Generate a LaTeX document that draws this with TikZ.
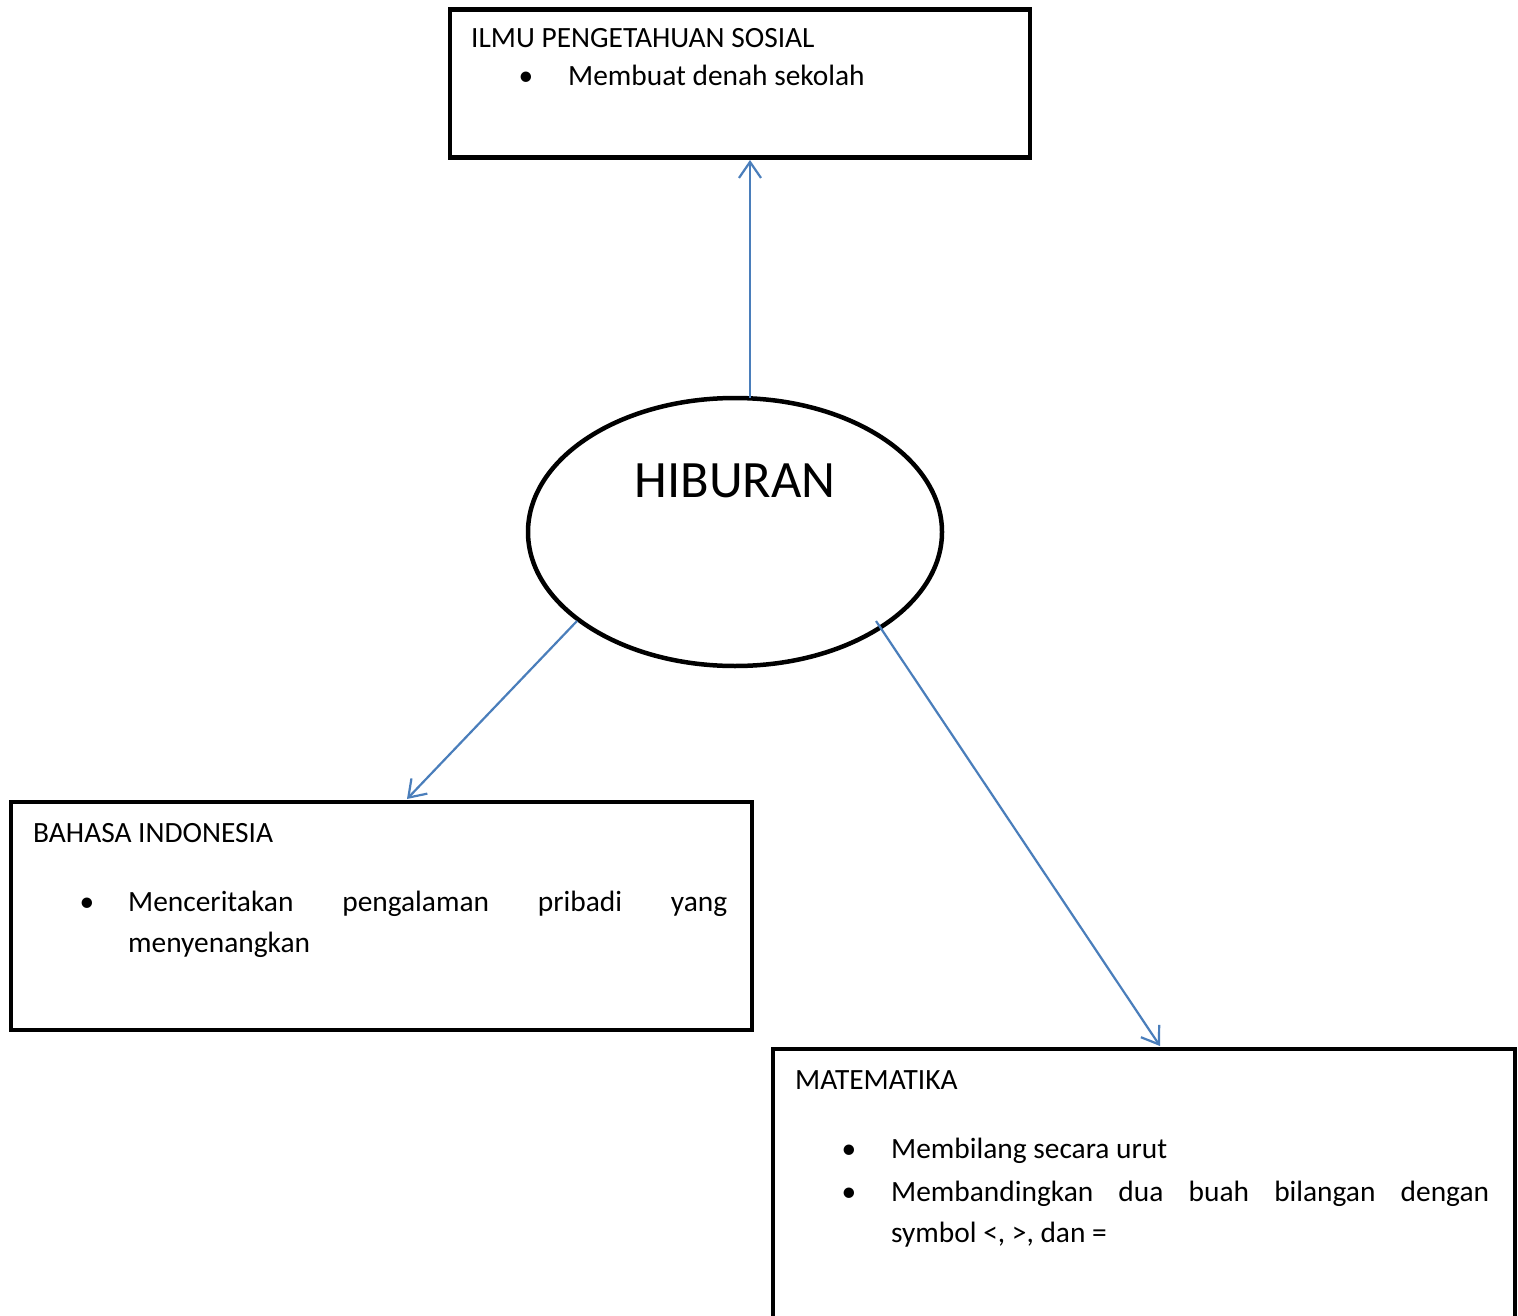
\documentclass[tikz,border=0pt]{standalone}
\usepackage{fontspec}
\setmainfont{Carlito}
\usetikzlibrary{arrows.meta,shapes.geometric}
\definecolor{arrowblue}{HTML}{4A7EBB}
\tikzset{
  box/.style={draw=black, line width=4.5pt, inner sep=0pt, anchor=north west, rectangle},
  conn/.style={draw=arrowblue, line width=2.2pt, -{Straight Barb[length=16pt,width=22pt,line width=2.2pt]}},
  txt/.style={anchor=base west, inner sep=0pt, font=\fontsize{29.4}{35}\selectfont},
  bul/.style={anchor=base, inner sep=0pt, font=\fontsize{29.4}{35}\selectfont},
}
\begin{document}
\begin{tikzpicture}[x=1pt,y=-1pt]
\clip (0,0) rectangle (1518,1316);
\fill[white] (0,0) rectangle (1518,1316);
% boxes
\node[box, minimum width=580pt, minimum height=148pt] (ips) at (447.5,7.5) {};
\node[box, minimum width=741pt, minimum height=228pt] (bi) at (8.5,799.5) {};
\node[box, minimum width=742pt, minimum height=320pt] (mat) at (770.5,1046.5) {};
\node[draw=black, line width=4.5pt, ellipse, minimum width=414pt, minimum height=268pt, inner sep=0pt] (hib) at (735,532) {};
\node[anchor=base, inner sep=0pt, font=\fontsize{52.5}{60}\selectfont] (hibt) at (735,497) {HIBURAN};
% IPS text
\node[txt] (ipst) at (471,48) {ILMU PENGETAHUAN SOSIAL};
\node[bul] (ipsb) at (526,86) {\textbullet};
\node[txt] (ips1) at (568,86) {Membuat denah sekolah};
% BI text
\node[txt] (bit) at (33,842) {BAHASA INDONESIA};
\node[bul] (bib) at (87,911) {\textbullet};
\node[txt] (bi1) at (128,911) {\hbox to 599pt{Menceritakan\hfill pengalaman\hfill pribadi\hfill yang}};
\node[txt] (bi2) at (128,952) {menyenangkan};
% MAT text
\node[txt] (matt) at (795,1089) {MATEMATIKA};
\node[bul] (matb1) at (849,1158) {\textbullet};
\node[txt] (mat1) at (891,1158) {Membilang secara urut};
\node[bul] (matb2) at (849,1201) {\textbullet};
\node[txt] (mat2) at (891,1201) {\hbox to 598pt{Membandingkan\hfill dua\hfill buah\hfill bilangan\hfill dengan}};
\node[txt] (mat3) at (891,1242) {symbol <, >, dan =};
% connectors
\coordinate (s1) at (750,398);
\coordinate (e1) at (750,160);
\coordinate (s2) at (577,621);
\coordinate (e2) at (407,799);
\coordinate (s3) at (876,621);
\coordinate (e3) at (1160,1046);
\draw[conn] (s1) -- (e1);
\draw[conn] (s2) -- (e2);
\draw[conn] (s3) -- (e3);
\end{tikzpicture}
\end{document}
